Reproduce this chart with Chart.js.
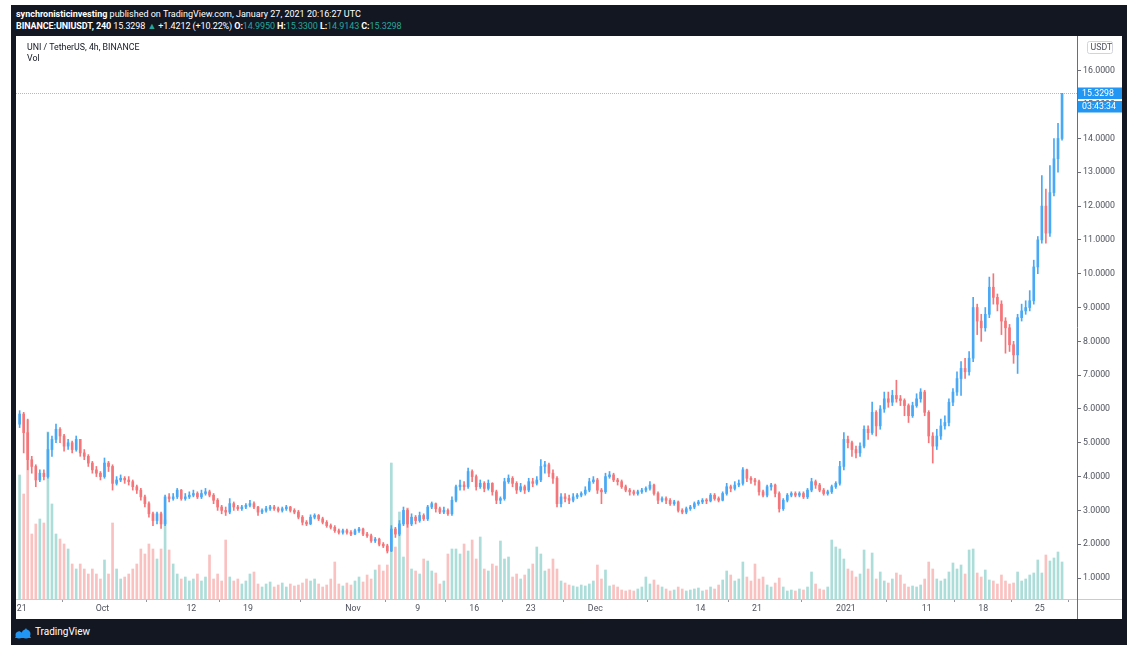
<!DOCTYPE html>
<html>
<head>
<meta charset="utf-8">
<script src="https://cdn.jsdelivr.net/npm/chart.js@4.4.1/dist/chart.umd.min.js"></script>
<style>
  html, body { margin: 0; padding: 0; background: #fff; }
  body { width: 1138px; height: 654px; position: relative; overflow: hidden; font-family: Roboto, "Noto Sans", sans-serif; }
  #frame { position: absolute; left: 11px; top: 5px; width: 1116px; height: 640px; background: #131722; }
  .hdr { position: absolute; left: 16px; color: #fff; font-size: 9px; white-space: nowrap; }
  .hdr b { font-weight: 700; }
  .up { color: #26a69a; }
  #box { position: absolute; left: 16px; top: 36px; width: 1106px; height: 583px; background: #fff; }
  #box canvas { position: absolute; left: 0; top: 0; }
  .leg { position: absolute; left: 11px; color: #131722; font-size: 8.8px; white-space: nowrap; }
  #foot { position: absolute; left: 35px; top: 626px; color: #fff; font-size: 10px; }
  #logo { position: absolute; left: 14px; top: 626px; }
</style>
</head>
<body>
<div id="frame"></div>
<div class="hdr" style="top:9px"><b>synchronisticinvesting</b> published on TradingView.com, January 27, 2021 20:16:27 UTC</div>
<div class="hdr" style="top:21px; letter-spacing:-0.1px"><b>BINANCE:UNIUSDT, 240</b> 15.3298 <span class="up">&#9650;</span> +1.4212 (+10.22%) <b>O:</b><span class="up">14.9950</span> <b>H:</b><span class="up">15.3300</span> <b>L:</b><span class="up">14.9143</span> <b>C:</b><span class="up">15.3298</span></div>
<div id="box">
  <canvas id="myChart" width="1106" height="583"></canvas>
  <div class="leg" style="top:6px">UNI / TetherUS, 4h, BINANCE</div>
  <div class="leg" style="top:17px">Vol</div>
</div>
<svg id="logo" width="18" height="13" viewBox="0 0 18 13">
  <path d="M1 12 L5 5 L8 8 L12 2 L17 12 Z" fill="#2196f3"/>
  <circle cx="5" cy="9" r="3.5" fill="#2196f3"/>
  <circle cx="12" cy="8" r="4.5" fill="#2196f3"/>
</svg>
<div id="foot">TradingView</div>
<script>
// 12h candles, day 0 = Sep 21 2020 00:00
const START_DAY = -0.25
const STEP_DAY = 0.5
const firstOpen = 5.55

const close = [
  5.85, 5.3, 4.5, 4.3, 3.9, 4.1, 4.0, 4.8, 5.1, 5.4,
  5.2, 4.9, 5.0, 4.8, 5.1, 4.7, 4.6, 4.4, 4.2, 4.1,
  4.0, 4.4, 4.3, 3.8, 3.9, 3.95, 3.9, 3.85, 3.7, 3.6,
  3.4, 3.2, 2.9, 2.7, 2.9, 2.6, 3.4, 3.35, 3.4, 3.6,
  3.35, 3.4, 3.45, 3.5, 3.4, 3.5, 3.55, 3.45, 3.3, 3.1,
  3.0, 2.95, 3.2, 3.1, 3.05, 3.1, 3.15, 3.2, 3.1, 2.95,
  3.0, 3.05, 3.1, 3.05, 3.0, 3.05, 3.1, 3.0, 2.95, 2.8,
  2.65, 2.6, 2.8, 2.85, 2.75, 2.65, 2.55, 2.5, 2.4, 2.35,
  2.4, 2.35, 2.3, 2.4, 2.45, 2.3, 2.25, 2.1, 2.15, 2.0,
  1.95, 1.8, 2.45, 2.3, 2.6, 3.0, 2.6, 2.8, 2.7, 2.85,
  2.75, 3.1, 3.2, 3.05, 2.95, 3.0, 2.9, 3.3, 3.7, 3.75,
  3.7, 4.15, 4.0, 3.7, 3.8, 3.65, 3.8, 3.55, 3.3, 3.35,
  3.85, 3.95, 3.8, 3.6, 3.7, 3.6, 3.85, 3.8, 3.9, 4.3,
  4.35, 4.1, 3.95, 3.2, 3.4, 3.35, 3.3, 3.4, 3.45, 3.5,
  3.6, 3.85, 3.9, 3.6, 3.55, 4.0, 4.05, 3.9, 3.85, 3.7,
  3.6, 3.55, 3.5, 3.55, 3.6, 3.65, 3.75, 3.5, 3.3, 3.35,
  3.3, 3.2, 3.25, 3.0, 2.95, 3.05, 3.1, 3.2, 3.25, 3.3,
  3.28, 3.45, 3.35, 3.3, 3.5, 3.7, 3.65, 3.75, 3.8, 4.2,
  3.95, 3.9, 3.85, 3.55, 3.45, 3.7, 3.75, 3.5, 3.05, 3.3,
  3.45, 3.5, 3.45, 3.5, 3.4, 3.6, 3.85, 3.75, 3.6, 3.5,
  3.55, 3.7, 3.8, 4.3, 5.1, 5.0, 4.8, 4.7, 4.9, 5.4,
  5.3, 5.9, 5.5, 6.0, 6.3, 6.2, 6.4, 6.3, 6.25, 6.1,
  5.8, 6.1, 6.3, 6.5, 5.9, 5.2, 4.9, 5.2, 5.5, 5.6,
  6.2, 6.5, 6.9, 7.2, 7.1, 7.5, 9.0, 8.6, 8.4, 8.8,
  9.6, 9.3, 9.1, 8.6, 8.4, 7.9, 7.6, 8.7, 8.9, 9.0,
  9.2, 10.2, 11.0, 12.0, 11.2, 12.4, 13.4, 14.0, 15.3298
]

const high = [
  5.95, 5.9, 5.7, 4.6, 4.35, 4.2, 4.2, 5.3, 5.2, 5.55,
  5.45, 5.25, 5.1, 5.05, 5.2, 5.1, 4.8, 4.65, 4.45, 4.3,
  4.15, 4.55, 4.45, 4.35, 4.0, 4.05, 4.0, 4.0, 3.9, 3.75,
  3.65, 3.45, 3.25, 2.95, 2.95, 2.95, 3.45, 3.5, 3.5, 3.65,
  3.62, 3.5, 3.55, 3.6, 3.55, 3.6, 3.65, 3.6, 3.5, 3.35,
  3.15, 3.1, 3.35, 3.25, 3.15, 3.15, 3.2, 3.3, 3.25, 3.12,
  3.05, 3.12, 3.15, 3.15, 3.1, 3.1, 3.15, 3.12, 3.05, 3.0,
  2.85, 2.7, 2.87, 2.9, 2.88, 2.8, 2.7, 2.6, 2.55, 2.45,
  2.45, 2.45, 2.4, 2.45, 2.5, 2.48, 2.35, 2.3, 2.2, 2.18,
  2.05, 2.0, 2.55, 2.5, 2.7, 3.1, 3.05, 2.9, 2.85, 2.95,
  2.9, 3.15, 3.25, 3.22, 3.1, 3.1, 3.05, 3.4, 3.75, 3.9,
  3.85, 4.25, 4.2, 4.05, 3.9, 3.85, 3.9, 3.82, 3.6, 3.4,
  3.95, 4.05, 4.0, 3.85, 3.8, 3.75, 3.95, 3.95, 4.0, 4.5,
  4.45, 4.4, 4.2, 4.0, 3.5, 3.5, 3.45, 3.5, 3.5, 3.55,
  3.7, 3.95, 4.0, 3.95, 3.65, 4.1, 4.15, 4.1, 3.95, 3.9,
  3.75, 3.65, 3.6, 3.6, 3.65, 3.7, 3.85, 3.78, 3.55, 3.4,
  3.4, 3.35, 3.3, 3.28, 3.05, 3.1, 3.15, 3.25, 3.3, 3.35,
  3.35, 3.5, 3.5, 3.4, 3.55, 3.8, 3.75, 3.85, 3.9, 4.27,
  4.22, 4.0, 3.95, 3.9, 3.6, 3.75, 3.8, 3.78, 3.55, 3.35,
  3.5, 3.55, 3.55, 3.55, 3.55, 3.65, 3.95, 3.9, 3.8, 3.65,
  3.6, 3.75, 3.85, 4.45, 5.3, 5.2, 5.05, 4.9, 5.0, 5.5,
  5.5, 6.2, 5.95, 6.1, 6.5, 6.5, 6.55, 6.85, 6.4, 6.3,
  6.15, 6.2, 6.45, 6.6, 6.55, 5.95, 5.3, 5.4, 5.7, 5.8,
  6.3, 6.6, 7.1, 7.4, 7.5, 7.7, 9.3, 9.1, 8.8, 9.0,
  9.9, 10.0, 9.4, 9.2, 8.7, 8.5, 8.0, 8.8, 9.1, 9.2,
  9.5, 10.4, 11.1, 12.9, 12.5, 13.2, 14.0, 14.45, 15.33
]

const low = [
  5.45, 4.7, 4.2, 4.1, 3.7, 3.85, 3.9, 3.95, 4.6, 5.0,
  5.0, 4.75, 4.8, 4.7, 4.75, 4.6, 4.5, 4.3, 4.1, 4.0,
  3.9, 3.95, 4.15, 3.6, 3.75, 3.85, 3.8, 3.75, 3.6, 3.5,
  3.3, 3.1, 2.8, 2.55, 2.6, 2.47, 2.55, 3.25, 3.3, 3.35,
  3.3, 3.3, 3.35, 3.4, 3.35, 3.35, 3.45, 3.4, 3.2, 3.0,
  2.9, 2.85, 2.9, 3.0, 3.0, 3.0, 3.05, 3.1, 3.05, 2.85,
  2.9, 2.95, 3.0, 3.0, 2.95, 2.95, 3.0, 2.95, 2.9, 2.75,
  2.57, 2.55, 2.58, 2.75, 2.7, 2.6, 2.5, 2.45, 2.35, 2.3,
  2.3, 2.3, 2.25, 2.28, 2.35, 2.25, 2.2, 2.05, 2.05, 1.95,
  1.9, 1.74, 1.78, 2.2, 2.25, 2.55, 2.5, 2.55, 2.6, 2.65,
  2.7, 2.7, 3.05, 2.95, 2.9, 2.9, 2.85, 2.85, 3.25, 3.6,
  3.6, 3.65, 3.85, 3.6, 3.65, 3.55, 3.6, 3.45, 3.2, 3.2,
  3.3, 3.8, 3.7, 3.5, 3.55, 3.5, 3.55, 3.7, 3.75, 3.85,
  4.1, 4.0, 3.8, 3.1, 3.1, 3.25, 3.2, 3.25, 3.35, 3.4,
  3.45, 3.55, 3.8, 3.5, 3.2, 3.5, 3.95, 3.85, 3.75, 3.65,
  3.55, 3.45, 3.45, 3.45, 3.5, 3.55, 3.6, 3.45, 3.2, 3.25,
  3.2, 3.15, 3.15, 2.95, 2.9, 2.9, 3.0, 3.05, 3.15, 3.2,
  3.2, 3.25, 3.3, 3.25, 3.28, 3.45, 3.55, 3.6, 3.7, 3.75,
  3.85, 3.8, 3.75, 3.45, 3.4, 3.4, 3.6, 3.4, 2.95, 3.0,
  3.25, 3.4, 3.4, 3.4, 3.35, 3.35, 3.55, 3.65, 3.55, 3.45,
  3.45, 3.5, 3.65, 3.75, 4.2, 4.85, 4.6, 4.55, 4.6, 4.85,
  5.1, 5.25, 5.2, 5.4, 5.9, 6.05, 6.1, 6.2, 6.1, 5.8,
  5.6, 5.75, 6.05, 6.2, 5.8, 5.0, 4.4, 4.8, 5.1, 5.4,
  5.5, 6.1, 6.4, 6.4, 6.9, 7.0, 7.4, 8.2, 8.0, 8.3,
  8.7, 9.1, 8.9, 8.2, 7.65, 7.7, 7.35, 7.05, 8.6, 8.8,
  8.9, 9.1, 10.0, 10.9, 10.9, 11.1, 12.3, 13.0, 13.95
]

// volume, read as bar height in the volume pane
const volume = [
  124, 105, 179, 65, 75, 80, 76, 167, 95, 65,
  60, 55, 50, 35, 30, 35, 30, 25, 30, 25,
  20, 39, 25, 76, 30, 20, 22, 25, 30, 35,
  50, 45, 55, 50, 40, 50, 79, 49, 35, 25,
  20, 22, 18, 20, 25, 18, 22, 44, 20, 25,
  18, 59, 22, 18, 20, 15, 18, 25, 27, 15,
  12, 15, 17, 12, 14, 16, 12, 15, 13, 14,
  16, 20, 18, 20, 15, 12, 14, 20, 37, 15,
  13, 16, 14, 18, 22, 17, 24, 20, 29, 34,
  28, 34, 136, 52, 87, 42, 91, 30, 28, 25,
  40, 38, 28, 26, 15, 18, 45, 50, 50, 45,
  55, 48, 59, 40, 62, 30, 28, 35, 33, 58,
  40, 42, 22, 25, 20, 24, 30, 35, 52, 45,
  28, 30, 40, 30, 18, 16, 14, 13, 12, 14,
  13, 15, 18, 34, 20, 29, 13, 14, 12, 9,
  8, 9, 8, 10, 12, 22, 15, 19, 14, 12,
  10, 8, 9, 12, 10, 8, 9, 10, 11, 8,
  9, 12, 10, 14, 19, 28, 24, 18, 20, 37,
  22, 18, 35, 20, 22, 14, 12, 16, 21, 12,
  8, 9, 8, 10, 9, 12, 27, 15, 10, 9,
  12, 59, 52, 50, 40, 30, 28, 22, 25, 49,
  30, 46, 20, 27, 18, 16, 20, 26, 24, 15,
  12, 13, 12, 14, 20, 37, 30, 20, 18, 20,
  27, 36, 30, 34, 25, 49, 50, 26, 22, 29,
  19, 18, 15, 24, 18, 15, 16, 27, 18, 20,
  24, 26, 39, 26, 44, 38, 41, 47, 37
]

const tickDays = [0, 10, 21, 28, 41, 49, 56, 63, 71, 84, 91, 102, 112, 119, 126]
const tickLabels = ['21', 'Oct', '12', '19', 'Nov', '9', '16', '23', 'Dec', '14', '21', '2021', '11', '18', '25']
const priceTicks = [1, 2, 3, 4, 5, 6, 7, 8, 9, 10, 11, 12, 13, 14, 15, 16]

const UP = '#4aa9f5'
const DOWN = '#f4767a'
const UP_VOL = 'rgba(38,166,154,0.38)'
const DOWN_VOL = 'rgba(239,83,80,0.36)'

const open = close.map((c, i) => i === 0 ? firstOpen : close[i - 1])
const day = close.map((c, i) => START_DAY + i * STEP_DAY)
const isUp = close.map((c, i) => c >= open[i])

const wicks = day.map((d, i) => ({ x: d, y: [Math.min(low[i], open[i], close[i]), Math.max(high[i], open[i], close[i])] }))
const bodies = day.map((d, i) => ({ x: d, y: [open[i], close[i]] }))
const vols = day.map((d, i) => ({ x: d, y: volume[i] }))
const candleColors = isUp.map(u => u ? UP : DOWN)
const volColors = isUp.map(u => u ? UP_VOL : DOWN_VOL)

const font = { family: 'Roboto', size: 8.8 }

const overlay = {
  id: 'overlay',
  afterDraw(chart) {
    const { ctx, chartArea: a, scales } = chart
    const last = close[close.length - 1]
    const py = Math.round(scales.y.getPixelForValue(last)) + 0.5
    const W = chart.width
    ctx.save()
    ctx.lineWidth = 1
    ctx.strokeStyle = '#c9cbd1'
    ctx.beginPath(); ctx.moveTo(0, a.bottom + 0.5); ctx.lineTo(W, a.bottom + 0.5); ctx.stroke()
    ctx.strokeStyle = '#6b6e78'
    ctx.beginPath(); ctx.moveTo(a.right + 0.5, 0); ctx.lineTo(a.right + 0.5, chart.height); ctx.stroke()
    ctx.strokeStyle = 'rgba(33,150,243,0.55)'
    ctx.setLineDash([1, 1])
    ctx.beginPath(); ctx.moveTo(a.left, py); ctx.lineTo(a.right, py); ctx.stroke()
    ctx.setLineDash([])
    ctx.fillStyle = '#2196f3'
    ctx.fillRect(a.right + 1, py - 6, W - a.right - 1, 11.5)
    ctx.fillRect(a.right + 1, py + 7.5, W - a.right - 1, 11.5)
    ctx.fillStyle = '#fff'
    ctx.font = '8.8px Roboto'
    ctx.textBaseline = 'middle'
    ctx.fillText(last.toFixed(4), a.right + 5, py)
    ctx.fillText('03:43:34', a.right + 5, py + 13.5)
    // currency badge
    const bx = a.right + 10.5, by = 5.5
    ctx.strokeStyle = '#d1d4dc'
    ctx.beginPath()
    ctx.roundRect(bx, by, 25, 12, 2)
    ctx.stroke()
    ctx.fillStyle = '#50535e'
    ctx.fillText('USDT', bx + 3, by + 6.5)
    ctx.restore()
  }
}

const ctx = document.getElementById('myChart')

const myChart = new Chart(ctx, {
  type: 'bar',
  data: {
    datasets: [
      { data: bodies, backgroundColor: candleColors, barThickness: 2, minBarLength: 1, order: 1, yAxisID: 'y' },
      { data: wicks, backgroundColor: candleColors, barThickness: 1, order: 2, yAxisID: 'y' },
      { data: vols, backgroundColor: volColors, barThickness: 2, order: 3, yAxisID: 'vol' }
    ]
  },
  options: {
    responsive: false,
    animation: false,
    layout: { padding: 0 },
    datasets: { bar: { grouped: false, clip: 0 } },
    plugins: { legend: { display: false }, tooltip: { enabled: false } },
    scales: {
      x: {
        type: 'linear',
        min: -0.7,
        max: 130.6,
        offset: false,
        afterBuildTicks: s => { s.ticks = tickDays.map(v => ({ value: v })) },
        afterFit: s => { s.height = 20; s.paddingLeft = 0; s.paddingRight = 0 },
        ticks: {
          autoSkip: false,
          maxRotation: 0,
          padding: 2,
          color: '#50535e',
          font,
          callback: (v, i) => tickLabels[i]
        },
        grid: { drawOnChartArea: false, tickLength: 3, tickColor: '#9598a1' },
        border: { display: false }
      },
      y: {
        position: 'right',
        min: 0.38,
        max: 17.03,
        afterBuildTicks: s => { s.ticks = priceTicks.map(v => ({ value: v })) },
        afterFit: s => { s.width = 45; s.paddingTop = 0; s.paddingBottom = 0 },
        ticks: { padding: 2, color: '#50535e', font, callback: v => Number(v).toFixed(4) },
        grid: { drawOnChartArea: false, tickLength: 4, tickColor: '#6b6e78' },
        border: { display: false }
      },
      vol: {
        display: false,
        min: 0,
        max: 563
      }
    }
  },
  plugins: [overlay]
})
</script>
</body>
</html>
